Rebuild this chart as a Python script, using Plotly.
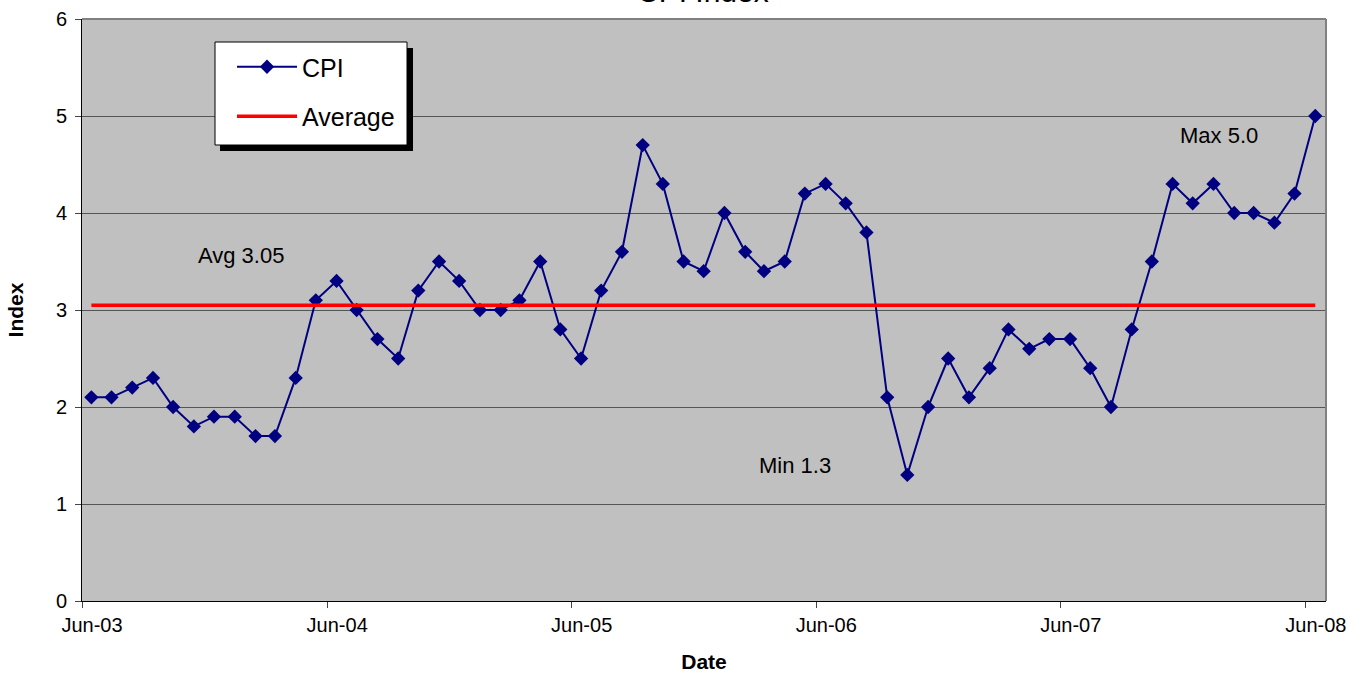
import plotly.graph_objects as go

# Monthly CPI readings, mid-month from Jun 2003 to Jun 2008
start_year, start_month = 2003, 6
cpi = [2.1, 2.1, 2.2, 2.3, 2.0, 1.8, 1.9, 1.9, 1.7, 1.7,
       2.3, 3.1, 3.3, 3.0, 2.7, 2.5, 3.2, 3.5, 3.3, 3.0,
       3.0, 3.1, 3.5, 2.8, 2.5, 3.2, 3.6, 4.7, 4.3, 3.5,
       3.4, 4.0, 3.6, 3.4, 3.5, 4.2, 4.3, 4.1, 3.8, 2.1,
       1.3, 2.0, 2.5, 2.1, 2.4, 2.8, 2.6, 2.7, 2.7, 2.4,
       2.0, 2.8, 3.5, 4.3, 4.1, 4.3, 4.0, 4.0, 3.9, 4.2,
       5.0]
average = 3.05
max_label = "Max 5.0"
min_label = "Min 1.3"
avg_label = "Avg 3.05"
tick_dates = ["2003-06-01", "2004-06-01", "2005-06-01", "2006-06-01", "2007-06-01", "2008-06-01"]
tick_text = ["Jun-03", "Jun-04", "Jun-05", "Jun-06", "Jun-07", "Jun-08"]

dates = []
for i in range(len(cpi)):
    m = start_month - 1 + i
    dates.append(f"{start_year + m // 12}-{m % 12 + 1:02d}-15")

FONT = "Liberation Sans, Arial, sans-serif"
L, R, T, B = 82, 38, 19, 72
W, H = 1364, 673
PW, PH = W - L - R, H - T - B


def px_x(px):
    return (px - L) / PW


def px_y(py):
    return (H - B - py) / PH


fig = go.Figure()
fig.add_trace(go.Scatter(
    x=dates, y=cpi, name="CPI", mode="lines+markers",
    line=dict(color="#000080", width=2),
    marker=dict(symbol="diamond", size=11, color="#000080"),
    legendgroup="a",
))
fig.add_trace(go.Scatter(
    x=[dates[0], dates[-1]], y=[average, average], name="Average", mode="lines",
    line=dict(color="#FF0000", width=3.5),
    legendgroup="b",
))

fig.update_layout(
    width=W, height=H,
    margin=dict(l=L, r=R, t=T, b=B),
    paper_bgcolor="white", plot_bgcolor="#C0C0C0",
    font=dict(family=FONT, size=20, color="black"),
    showlegend=True,
    legend=dict(
        x=px_x(232), y=px_y(44), xanchor="left", yanchor="top",
        bgcolor="rgba(0,0,0,0)", borderwidth=0,
        font=dict(size=25), tracegroupgap=14, itemwidth=60,
    ),
    xaxis=dict(
        type="date", range=["2003-06-01", "2008-07-01"], automargin=False,
        tickvals=tick_dates, ticktext=tick_text, ticklabelshift=10,
        ticks="outside", ticklen=6, tickcolor="#444",
        tickfont=dict(size=20),
        showgrid=False, showline=True, linecolor="black", linewidth=1,
        zeroline=False,
        title=dict(text="<b>Date</b>", font=dict(size=21), standoff=19),
    ),
    yaxis=dict(
        range=[0, 6], dtick=1, automargin=False,
        ticks="outside", ticklen=6, tickcolor="#444",
        tickfont=dict(size=20), ticklabelstandoff=4,
        showgrid=True, gridcolor="#555", gridwidth=1,
        showline=True, linecolor="black", linewidth=1, zeroline=False,
        title=dict(text="<b>Index</b>", font=dict(size=21), standoff=26),
    ),
)

# plot-area frame on top and right
fig.add_shape(type="line", xref="paper", yref="paper", x0=0, x1=1, y0=1, y1=1,
              line=dict(color="#808080", width=2))
fig.add_shape(type="line", xref="paper", yref="paper", x0=1, x1=1, y0=0, y1=1,
              line=dict(color="#808080", width=2))
# legend box with drop shadow
fig.add_shape(type="rect", xref="paper", yref="paper", layer="above",
              x0=px_x(220), x1=px_x(413), y0=px_y(151), y1=px_y(48),
              line=dict(width=0), fillcolor="black")
fig.add_shape(type="rect", xref="paper", yref="paper", layer="above",
              x0=px_x(215), x1=px_x(407), y0=px_y(145), y1=px_y(42),
              line=dict(width=1, color="black"), fillcolor="white")

fig.add_annotation(x="2004-01-25", y=3.56, text=avg_label, showarrow=False, font=dict(size=22))
fig.add_annotation(x="2008-01-24", y=4.80, text=max_label, showarrow=False, font=dict(size=22))
fig.add_annotation(x="2006-05-01", y=1.40, text=min_label, showarrow=False, font=dict(size=22))
fig.add_annotation(xref="paper", yref="paper", x=px_x(703), y=1, yanchor="middle", yshift=28,
                   text="CPI Index", showarrow=False, font=dict(size=30))

fig.write_html("out.html")
